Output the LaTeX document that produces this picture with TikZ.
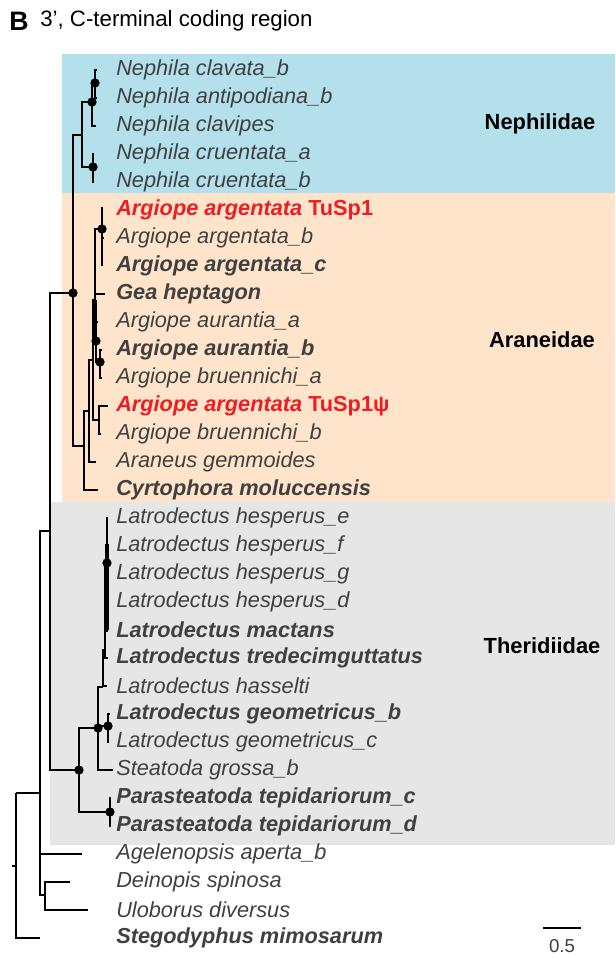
\documentclass[tikz,border=0pt]{standalone}
\usepackage{fontspec}
\setmainfont{Liberation Sans}
\definecolor{nephbg}{HTML}{B3E0EA}
\definecolor{aranbg}{HTML}{FDE4CA}
\definecolor{therbg}{HTML}{E6E6E6}
\definecolor{labgray}{HTML}{404040}
\definecolor{tusred}{HTML}{EE1D23}
\begin{document}
\begin{tikzpicture}[x=0.75pt,y=-0.75pt,
  br/.style={line width=1.65pt,black},
  thk/.style={line width=3.2pt,black},
  lab/.style={anchor=west,inner sep=0pt,text=labgray,font=\fontsize{16.3}{18}\selectfont\itshape},
  blab/.style={lab,font=\fontsize{16.3}{18}\selectfont\bfseries\itshape},
  rlab/.style={anchor=west,inner sep=0pt,text=tusred,font=\fontsize{16.3}{18}\selectfont\bfseries},
  fam/.style={inner sep=0pt,font=\fontsize{16.4}{18}\selectfont\bfseries},
  dot/.style={fill=black}]
\useasboundingbox (0,0) rectangle (615,958);
% backgrounds
\fill[nephbg] (62,54) rectangle (615,193);
\fill[aranbg] (62,193) rectangle (615,502);
\fill[therbg] (50,502) rectangle (615,845);
% title
\node[anchor=west,inner sep=0pt,font=\fontsize{20}{22}\selectfont\bfseries] (ttlB) at (9,21) {B};
\node[anchor=west,inner sep=0pt,font=\fontsize{16.7}{18}\selectfont] (ttl) at (40,21) {3’, C-terminal coding region};
% family labels
\node[fam] (fN) at (540,124) {Nephilidae};
\node[fam] (fA) at (542,340) {Araneidae};
\node[fam] (fT) at (542,646) {Theridiidae};
% leaf labels
\node[lab]  (t0)  at (116,70)  {Nephila clavata\_b};
\node[lab]  (t1)  at (116,98)  {Nephila antipodiana\_b};
\node[lab]  (t2)  at (116,126) {Nephila clavipes};
\node[lab]  (t3)  at (116,154) {Nephila cruentata\_a};
\node[lab]  (t4)  at (116,182) {Nephila cruentata\_b};
\node[rlab] (t5)  at (116,210) {\textit{Argiope argentata} TuSp1};
\node[lab]  (t6)  at (116,238) {Argiope argentata\_b};
\node[blab] (t7)  at (116,266) {Argiope argentata\_c};
\node[blab] (t8)  at (116,294) {Gea heptagon};
\node[lab]  (t9)  at (116,322) {Argiope aurantia\_a};
\node[blab] (t10) at (116,350) {Argiope aurantia\_b};
\node[lab]  (t11) at (116,378) {Argiope bruennichi\_a};
\node[rlab] (t12) at (116,406) {\textit{Argiope argentata} TuSp1ψ};
\node[lab]  (t13) at (116,434) {Argiope bruennichi\_b};
\node[lab]  (t14) at (116,462) {Araneus gemmoides};
\node[blab] (t15) at (116,490) {Cyrtophora moluccensis};
\node[lab]  (t16) at (116,518) {Latrodectus hesperus\_e};
\node[lab]  (t17) at (116,546) {Latrodectus hesperus\_f};
\node[lab]  (t18) at (116,574) {Latrodectus hesperus\_g};
\node[lab]  (t19) at (116,602) {Latrodectus hesperus\_d};
\node[blab] (t20) at (116,630) {Latrodectus mactans};
\node[blab] (t21) at (116,658) {Latrodectus tredecimguttatus};
\node[lab]  (t22) at (116,686) {Latrodectus hasselti};
\node[blab] (t23) at (116,714) {Latrodectus geometricus\_b};
\node[lab]  (t24) at (116,742) {Latrodectus geometricus\_c};
\node[lab]  (t25) at (116,770) {Steatoda grossa\_b};
\node[blab] (t26) at (116,798) {Parasteatoda tepidariorum\_c};
\node[blab] (t27) at (116,826) {Parasteatoda tepidariorum\_d};
\node[lab]  (t28) at (116,854) {Agelenopsis aperta\_b};
\node[lab]  (t29) at (116,882) {Deinopis spinosa};
\node[lab]  (t30) at (116,910) {Uloborus diversus};
\node[blab] (t31) at (116,938) {Stegodyphus mimosarum};
% tips
\coordinate (l0) at (97,70);   \coordinate (l1) at (97,98);
\coordinate (l2) at (96,126);  \coordinate (l3) at (94,154);
\coordinate (l4) at (94,182);  \coordinate (l5) at (103,208);
\coordinate (l6) at (104,238); \coordinate (l7) at (103,265);
\coordinate (l8) at (105,294); \coordinate (l9) at (98,322);
\coordinate (l10) at (102,350); \coordinate (l11) at (102,378);
\coordinate (l12) at (108,406); \coordinate (l13) at (101,434);
\coordinate (l14) at (96,462); \coordinate (l15) at (98,490);
\coordinate (l16) at (107.5,518); \coordinate (l17) at (108.5,546);
\coordinate (l18) at (108,574); \coordinate (l19) at (108,602);
\coordinate (l20) at (108,630); \coordinate (l21) at (108,658);
\coordinate (l22) at (107,686); \coordinate (l23) at (110,714);
\coordinate (l24) at (109,742); \coordinate (l25) at (113,770);
\coordinate (l26) at (111,798); \coordinate (l27) at (111,826);
\coordinate (l28) at (82,854); \coordinate (l29) at (70,882);
\coordinate (l30) at (88,910); \coordinate (l31) at (40,938);
% internal nodes
\coordinate (R) at (16,793);
\coordinate (N40) at (40,793);
\coordinate (N45) at (45,895);
\coordinate (N50) at (50,531);
\coordinate (N73) at (73,293);
\coordinate (NA) at (82,135);
\coordinate (NB) at (92,102);
\coordinate (NC) at (95,83);
\coordinate (ND) at (93,167);
\coordinate (NH) at (84,446);
\coordinate (NF) at (89,411);
\coordinate (NG) at (93,360);
\coordinate (NI) at (99,420);
\coordinate (NE) at (95,300);
\coordinate (NJ) at (102,229);
\coordinate (NK) at (96,341);
\coordinate (NL) at (100,362);
\coordinate (N79) at (79,770);
\coordinate (NP) at (110,812);
\coordinate (N98) at (98,728);
\coordinate (NGeo) at (108,726);
\coordinate (NLat) at (103,687);
\coordinate (NLa2) at (105,650);
\coordinate (NLa3) at (106.5,605);
\coordinate (NLa4) at (107,563);
% branches
\draw[br] (R) |- (N40);  \draw[br] (R) |- (l31);
\draw[br] (N40) |- (N50); \draw[br] (N40) |- (l28); \draw[br] (N40) |- (N45);
\draw[br] (N45) |- (l29); \draw[br] (N45) |- (l30);
\draw[br] (N50) |- (N73); \draw[br] (N50) |- (N79);
\draw[br] (N73) |- (NA); \draw[br] (N73) |- (NH);
\draw[br] (NA) |- (NB); \draw[br] (NA) |- (ND);
\draw[br] (NB) |- (NC); \draw[br] (NB) |- (l2);
\draw[br] (NC) |- (l0); \draw[br] (NC) |- (l1);
\draw[br] (ND) |- (l3); \draw[br] (ND) |- (l4);
\draw[br] (NH) |- (NF); \draw[br] (NH) |- (l15);
\draw[br] (NF) |- (NG); \draw[br] (NF) |- (l14);
\draw[br] (NG) |- (NE); \draw[br] (NG) |- (NI);
\draw[br] (NI) |- (l12); \draw[br] (NI) |- (l13);
\draw[br] (NE) |- (NJ); \draw[br] (NE) |- (l8); \draw[thk] (NE) |- (NK);
\draw[br] (NJ) |- (l5); \draw[br] (NJ) |- (l6); \draw[br] (NJ) |- (l7);
\draw[br] (NK) |- (l9); \draw[br] (NK) |- (NL);
\draw[br] (NL) |- (l10); \draw[br] (NL) |- (l11);
\draw[br] (N79) |- (N98); \draw[br] (N79) |- (NP);
\draw[br] (NP) |- (l26); \draw[br] (NP) |- (l27);
\draw[br] (N98) |- (NLat); \draw[br] (N98) |- (NGeo); \draw[br] (N98) |- (l25);
\draw[br] (NGeo) |- (l23); \draw[br] (NGeo) |- (l24);
\draw[br] (NLat) |- (NLa2); \draw[br] (NLat) |- (l22);
\draw[br] (NLa2) |- (NLa3); \draw[br] (NLa2) |- (l21);
\draw[thk] (NLa3) |- (NLa4); \draw[thk] (NLa3) |- (l20); \draw[br] (NLa3) |- (l19);
\draw[br] (NLa4) |- (l16); \draw[thk] (NLa4) |- (l17); \draw[br] (NLa4) |- (l18);
% support dots
\foreach \n in {N73,NB,NC,ND,NJ,NK,NL,N79,NP,N98,NGeo,NLa4}
  \fill[dot] (\n) circle[radius=3.5pt];
% stray mark
\coordinate (m1) at (11.5,866); \coordinate (m2) at (15,866);
\draw[line width=1.8pt] (m1) -- (m2);
% scale bar
\coordinate (sb1) at (543,928); \coordinate (sb2) at (581,928);
\draw[br] (sb1) -- (sb2);
\node[inner sep=0pt,text=labgray,font=\fontsize{14}{15}\selectfont] (sbl) at (562,946.5) {0.5};
\end{tikzpicture}
\end{document}
